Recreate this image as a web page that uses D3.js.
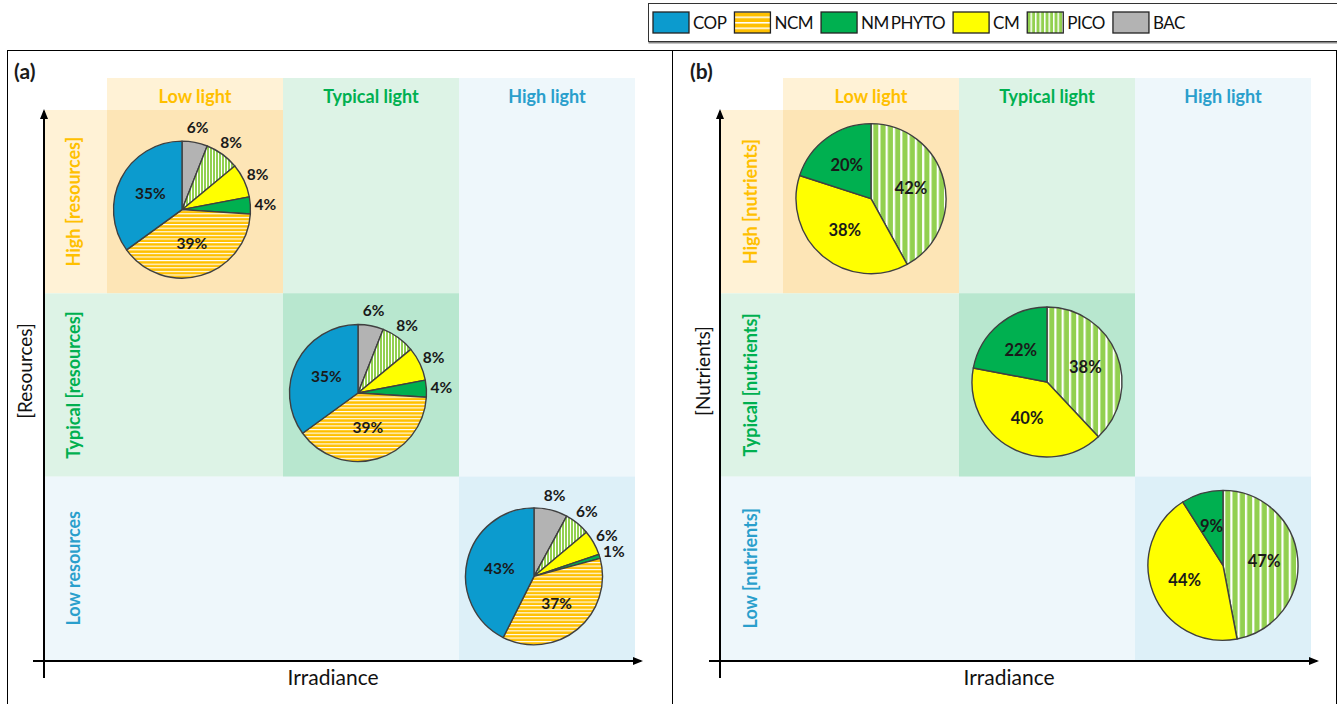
<!DOCTYPE html>
<html>
<head>
<meta charset="utf-8">
<script src="https://cdn.jsdelivr.net/npm/d3@7"></script>
<style>
  body { margin: 0; background: #fff; }
  svg { display: block; font-family: Lato, "Open Sans", sans-serif; }
</style>
</head>
<body>
<svg id="chart" width="1337" height="704"></svg>
<script>
// legend order and pie order (clockwise from 12 o'clock)
const groups = ["COP", "NCM", "NM PHYTO", "CM", "PICO", "BAC"];
const sliceOrder = ["BAC", "PICO", "CM", "NM PHYTO", "NCM", "COP"];

const lightLevels = ["Low light", "Typical light", "High light"];
const resourceLevels = ["High [resources]", "Typical [resources]", "Low resources"];
const nutrientLevels = ["High [nutrients]", "Typical [nutrients]", "Low [nutrients]"];

// shares (%) in sliceOrder, one pie per diagonal cell
const resHighLowLight = [6, 8, 8, 4, 39, 35];
const resTypicalTypicalLight = [6, 8, 8, 4, 39, 35];
const resLowHighLight = [8, 6, 6, 1, 37, 43];
const nutHighLowLight = [0, 42, 38, 20, 0, 0];
const nutTypicalTypicalLight = [0, 38, 40, 22, 0, 0];
const nutLowHighLight = [0, 47, 44, 9, 0, 0];

const colors = {
    "COP": "#0c9bce",
    "NCM": "#ffc000",
    "NM PHYTO": "#00b050",
    "CM": "#ffff00",
    "PICO": "#92d050",
    "BAC": "#b3b3b3"
};
// orange / green / blue tones for low / typical / high light
const toneLight = ["#fff2d6", "#ddf3e6", "#eef7fb"];
const toneDark = ["#fde5b6", "#b8e7cf", "#ddf0f8"];
const toneText = ["#ffc000", "#00b050", "#2a9fcc"];

const svg = d3.select("#chart");
const defs = svg.append("defs");

// striped fills
function stripes(id, base, period, lineW, vertical) {
    const p = defs.append("pattern")
        .attr("id", id)
        .attr("patternUnits", "userSpaceOnUse")
        .attr("width", vertical ? period : 10)
        .attr("height", vertical ? 10 : period);
    p.append("rect").attr("width", vertical ? period : 10).attr("height", vertical ? 10 : period).attr("fill", base);
    p.append("rect")
        .attr("width", vertical ? lineW : 10)
        .attr("height", vertical ? 10 : lineW)
        .attr("fill", "#fff");
}
stripes("ncm-a", colors["NCM"], 3.6, 1.1, false);
stripes("pico-a", colors["PICO"], 3, 1, true);
stripes("pico-b", colors["PICO"], 7.3, 2.2, true);
stripes("ncm-leg", colors["NCM"], 5.5, 1.5, false);
stripes("pico-leg", colors["PICO"], 4.5, 1.5, true);

defs.append("marker")
    .attr("id", "arrow")
    .attr("viewBox", "0 -5 10 10")
    .attr("refX", 8).attr("refY", 0)
    .attr("markerWidth", 10).attr("markerHeight", 10)
    .attr("markerUnits", "userSpaceOnUse")
    .attr("orient", "auto")
    .append("path").attr("d", "M0,-4L10,0L0,4Z").attr("fill", "#000");

function fillFor(key, panel) {
    if (key === "NCM") return panel === "leg" ? "url(#ncm-leg)" : "url(#ncm-a)";
    if (key === "PICO") return `url(#pico-${panel})`;
    return colors[key];
}

// frames
svg.append("rect").attr("x", 7.5).attr("y", 50.5).attr("width", 665).attr("height", 700)
    .attr("fill", "none").attr("stroke", "#000").attr("stroke-width", 1);
svg.append("rect").attr("x", 672.5).attr("y", 50.5).attr("width", 664).attr("height", 700)
    .attr("fill", "none").attr("stroke", "#000").attr("stroke-width", 1);

function drawPanel(cfg) {
    const g = svg.append("g").attr("transform", `translate(${cfg.offset},0)`);
    const x = d3.scaleBand().domain(lightLevels).range([107, 635]);
    const y = d3.scaleBand().domain(cfg.rows).range([110, 660]);
    const bw = x.bandwidth(), bh = y.bandwidth();
    const headTop = 78, labLeft = 45;

    // L-shaped backgrounds
    lightLevels.forEach((l, i) => {
        const r = cfg.rows[i];
        g.append("rect").attr("x", x(l)).attr("y", headTop)
            .attr("width", bw).attr("height", y(r) + bh - headTop).attr("fill", toneLight[i]);
        g.append("rect").attr("x", labLeft).attr("y", y(r))
            .attr("width", x(l) + bw - labLeft).attr("height", bh).attr("fill", toneLight[i]);
        g.append("rect").attr("x", x(l)).attr("y", y(r))
            .attr("width", bw).attr("height", bh).attr("fill", toneDark[i]);
    });

    // column headers
    g.selectAll(".colhead").data(lightLevels).enter().append("text")
        .attr("x", d => x(d) + bw / 2).attr("y", 103)
        .attr("text-anchor", "middle")
        .attr("font-size", 18).attr("font-weight", "bold")
        .attr("fill", (d, i) => toneText[i])
        .text(d => d);

    // row labels
    g.selectAll(".rowhead").data(cfg.rows).enter().append("text")
        .attr("transform", d => `translate(${cfg.rowLabelX},${y(d) + bh / 2}) rotate(-90)`)
        .attr("text-anchor", "middle").attr("dy", "0.35em")
        .attr("font-size", 18).attr("font-weight", "bold")
        .attr("fill", (d, i) => toneText[i])
        .text(d => d);

    // axes
    g.append("line").attr("x1", 44).attr("y1", 678).attr("x2", 44).attr("y2", 111)
        .attr("stroke", "#000").attr("stroke-width", 2).attr("marker-end", "url(#arrow)");
    g.append("line").attr("x1", 33).attr("y1", 661).attr("x2", 641).attr("y2", 661)
        .attr("stroke", "#000").attr("stroke-width", 2).attr("marker-end", "url(#arrow)");

    g.append("text").attr("x", 333).attr("y", 685).attr("text-anchor", "middle")
        .attr("font-size", 21).attr("fill", "#111").text("Irradiance");
    g.append("text")
        .attr("transform", `translate(${cfg.yTitleX},371) rotate(-90)`)
        .attr("text-anchor", "middle").attr("dy", "0.35em")
        .attr("font-size", 19).attr("fill", "#111").text(cfg.yTitle);

    g.append("text").attr("x", 14).attr("y", 79)
        .attr("font-size", 21).attr("font-weight", "bold").attr("fill", "#1a1a1a").text(cfg.tag);

    // pies
    const pie = d3.pie().sort(null).value(d => d.value);
    const arc = d3.arc().innerRadius(0).outerRadius(cfg.r);
    const inArc = d3.arc().innerRadius(cfg.r * cfg.inside).outerRadius(cfg.r * cfg.inside);
    const outArc = d3.arc().innerRadius(cfg.r + 15).outerRadius(cfg.r + 15);

    cfg.pies.forEach((vals, i) => {
        const data = sliceOrder.map((k, j) => ({ key: k, value: vals[j] }));
        const arcs = pie(data).filter(d => d.data.value > 0);
        const cx = x(lightLevels[i]) + bw / 2 + cfg.dx;
        const cy = y(cfg.rows[i]) + bh / 2 + cfg.dy;
        const pg = g.append("g").attr("transform", `translate(${cx},${cy})`);

        pg.selectAll("path").data(arcs).enter().append("path")
            .attr("d", arc)
            .attr("fill", d => fillFor(d.data.key, cfg.pat))
            .attr("stroke", "#404040").attr("stroke-width", 1.4)
            .attr("stroke-linejoin", "round");

        pg.selectAll("text").data(arcs).enter().append("text")
            .attr("transform", d => {
                const c = d.data.value >= cfg.insideMin ? inArc.centroid(d) : outArc.centroid(d);
                return `translate(${c})`;
            })
            .attr("text-anchor", "middle").attr("dy", "0.35em")
            .attr("font-size", cfg.labelSize).attr("font-weight", "bold").attr("fill", "#1a1a1a")
            .text(d => d.data.value + "%");
    });
}

drawPanel({
    offset: 0, tag: "(a)", rows: resourceLevels, yTitle: "[Resources]",
    rowLabelX: 74, yTitleX: 25,
    pies: [resHighLowLight, resTypicalTypicalLight, resLowHighLight],
    r: 68.5, dx: -13, dy: 8, inside: 0.52, insideMin: 10, labelSize: 15.5, pat: "a"
});
drawPanel({
    offset: 676, tag: "(b)", rows: nutrientLevels, yTitle: "[Nutrients]",
    rowLabelX: 75, yTitleX: 27,
    pies: [nutHighLowLight, nutTypicalTypicalLight, nutLowHighLight],
    r: 75, dx: 0, dy: -3, inside: 0.55, insideMin: 0, labelSize: 16.5, pat: "b"
});

// legend
const leg = svg.append("g");
leg.append("rect").attr("x", 648.5).attr("y", 41).attr("width", 700).attr("height", 2.5).attr("fill", "#8a8a8a");
leg.append("rect").attr("x", 648.5).attr("y", 3.5).attr("width", 700).attr("height", 38)
    .attr("fill", "#fff").attr("stroke", "#333").attr("stroke-width", 1);
let lx = 653;
groups.forEach(k => {
    leg.append("rect").attr("x", lx).attr("y", 12).attr("width", 36).attr("height", 21)
        .attr("fill", fillFor(k, "leg")).attr("stroke", "#222").attr("stroke-width", 1.3);
    const t = leg.append("text").attr("x", lx + 40).attr("y", 28.5)
        .attr("font-size", 17).attr("letter-spacing", -0.5).attr("word-spacing", -2)
        .attr("fill", "#111").text(k);
    lx += 40 + t.node().getComputedTextLength() + 8;
});
</script>
</body>
</html>
